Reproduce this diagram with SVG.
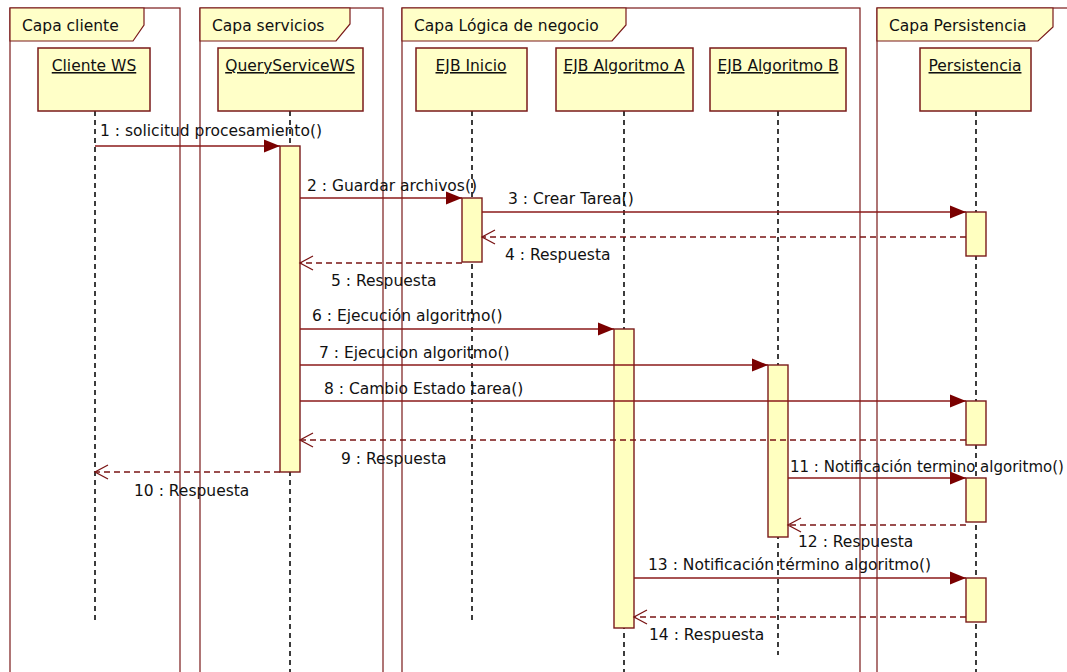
<svg xmlns="http://www.w3.org/2000/svg" width="1067" height="672" viewBox="0 0 1067 672">
  <style>
    .frame { fill: none; stroke: #7a1a1a; stroke-width: 1.2; }
    .tab { fill: #ffffc8; stroke: #7a1a1a; stroke-width: 1.2; }
    .box { fill: #ffffc8; stroke: #7a1a1a; stroke-width: 1.5; }
    .bar { fill: #ffffc0; stroke: #7a1a1a; stroke-width: 1.4; }
    .life { stroke: #1a1a1a; stroke-width: 1.7; stroke-dasharray: 5 4; fill: none; }
    .call { stroke: #8b1a1a; stroke-width: 1.3; fill: none; marker-end: url(#solid); }
    .ret { stroke: #7a1414; stroke-width: 1.4; fill: none; stroke-dasharray: 6 4; marker-end: url(#open); }
    text { font-family: "DejaVu Sans", Verdana, sans-serif; font-size: 15.5px; fill: #111; }
    .name { text-anchor: middle; text-decoration: underline; }
    .tight { font-size: 15px; }
  </style>
  <defs>
    <marker id="solid" markerUnits="userSpaceOnUse" markerWidth="17" markerHeight="14" refX="16" refY="7" orient="auto">
      <path d="M0,0.5 L16,7 L0,13.5 z" fill="#7a0000"/>
    </marker>
    <marker id="open" markerUnits="userSpaceOnUse" markerWidth="16" markerHeight="16" refX="14" refY="8" orient="auto">
      <path d="M1,1 L14,8 L1,15" fill="none" stroke="#7a1414" stroke-width="1.3"/>
    </marker>
  </defs>
  <rect width="1067" height="672" fill="#ffffff"/>

  <!-- layer frames -->
  <g id="frame-cliente">
    <rect class="frame" x="10" y="8" width="170" height="680"/>
    <path class="tab" d="M10,8 H144 V25 L133,41 H10 Z"/>
    <text x="22" y="31">Capa cliente</text>
  </g>
  <g id="frame-servicios">
    <rect class="frame" x="200" y="8" width="183" height="680"/>
    <path class="tab" d="M200,8 H350 V24 L336,41 H200 Z"/>
    <text x="212" y="31">Capa servicios</text>
  </g>
  <g id="frame-logica">
    <rect class="frame" x="402" y="8" width="458" height="680"/>
    <path class="tab" d="M402,8 H626 V25 L612,41 H402 Z"/>
    <text x="414" y="31">Capa Lógica de negocio</text>
  </g>
  <g id="frame-persistencia">
    <rect class="frame" x="877" y="8" width="220" height="680"/>
    <path class="tab" d="M877,8 H1053 V27 L1038,41 H877 Z"/>
    <text x="889" y="31">Capa Persistencia</text>
  </g>

  <!-- lifelines -->
  <g id="lifelines">
    <line class="life" x1="95" y1="111" x2="95" y2="622"/>
    <line class="life" x1="290" y1="111" x2="290" y2="672"/>
    <line class="life" x1="472" y1="111" x2="472" y2="622"/>
    <line class="life" x1="624" y1="111" x2="624" y2="672"/>
    <line class="life" x1="778" y1="111" x2="778" y2="655"/>
    <line class="life" x1="976" y1="111" x2="976" y2="672"/>
  </g>

  <g id="cliente-ws">
    <rect class="box" x="38" y="48" width="112" height="63"/>
    <text class="name" x="94" y="71">Cliente WS</text>
  </g>
  <g id="query-service-ws">
    <rect class="box" x="218" y="48" width="145" height="63"/>
    <text class="name" x="290" y="71">QueryServiceWS</text>
    <rect class="bar" x="280" y="146" width="20" height="326"/>
  </g>
  <g id="ejb-inicio">
    <rect class="box" x="416" y="48" width="111" height="63"/>
    <text class="name" x="471" y="71">EJB Inicio</text>
    <rect class="bar" x="462" y="198" width="20" height="64"/>
  </g>
  <g id="ejb-algoritmo-a">
    <rect class="box" x="556" y="48" width="137" height="63"/>
    <text class="name" x="624" y="71">EJB Algoritmo A</text>
    <rect class="bar" x="614" y="329" width="20" height="299"/>
  </g>
  <g id="ejb-algoritmo-b">
    <rect class="box" x="710" y="48" width="136" height="63"/>
    <text class="name" x="778" y="71">EJB Algoritmo B</text>
    <rect class="bar" x="768" y="365" width="20" height="172"/>
  </g>
  <g id="persistencia">
    <rect class="box" x="920" y="48" width="111" height="63"/>
    <text class="name" x="975" y="71">Persistencia</text>
    <rect class="bar" x="966" y="212" width="20" height="44"/>
    <rect class="bar" x="966" y="401" width="20" height="44"/>
    <rect class="bar" x="966" y="478" width="20" height="44"/>
    <rect class="bar" x="966" y="578" width="20" height="44"/>
  </g>

  <!-- messages -->
  <g id="connectors">
    <line class="call" x1="95" y1="146" x2="280" y2="146"/>
    <line class="call" x1="300" y1="198" x2="462" y2="198"/>
    <line class="call" x1="482" y1="212" x2="966" y2="212"/>
    <line class="ret" x1="966" y1="237" x2="482" y2="237"/>
    <line class="ret" x1="462" y1="263" x2="300" y2="263"/>
    <line class="call" x1="300" y1="329" x2="614" y2="329"/>
    <line class="call" x1="300" y1="365" x2="768" y2="365"/>
    <line class="call" x1="300" y1="401" x2="966" y2="401"/>
    <line class="ret" x1="966" y1="440" x2="300" y2="440"/>
    <line class="ret" x1="280" y1="472" x2="95" y2="472"/>
    <line class="call" x1="788" y1="478" x2="966" y2="478"/>
    <line class="ret" x1="966" y1="525" x2="788" y2="525"/>
    <line class="call" x1="634" y1="578" x2="966" y2="578"/>
    <line class="ret" x1="966" y1="617" x2="634" y2="617"/>
  </g>

  <g id="message-labels">
    <text x="100" y="136">1 : solicitud procesamiento()</text>
    <text x="307" y="191">2 : Guardar archivos()</text>
    <text x="508" y="204">3 : Crear Tarea()</text>
    <text x="505" y="260">4 : Respuesta</text>
    <text x="331" y="286">5 : Respuesta</text>
    <text x="312" y="321">6 : Ejecución algoritmo()</text>
    <text x="319" y="358">7 : Ejecucion algoritmo()</text>
    <text x="324" y="394">8 : Cambio Estado tarea()</text>
    <text x="341" y="464">9 : Respuesta</text>
    <text x="134" y="496">10 : Respuesta</text>
    <text class="tight" x="790" y="472">11 : Notificación termino algoritmo()</text>
    <text x="798" y="547">12 : Respuesta</text>
    <text x="648" y="570">13 : Notificación término algoritmo()</text>
    <text x="649" y="640">14 : Respuesta</text>
  </g>
</svg>
